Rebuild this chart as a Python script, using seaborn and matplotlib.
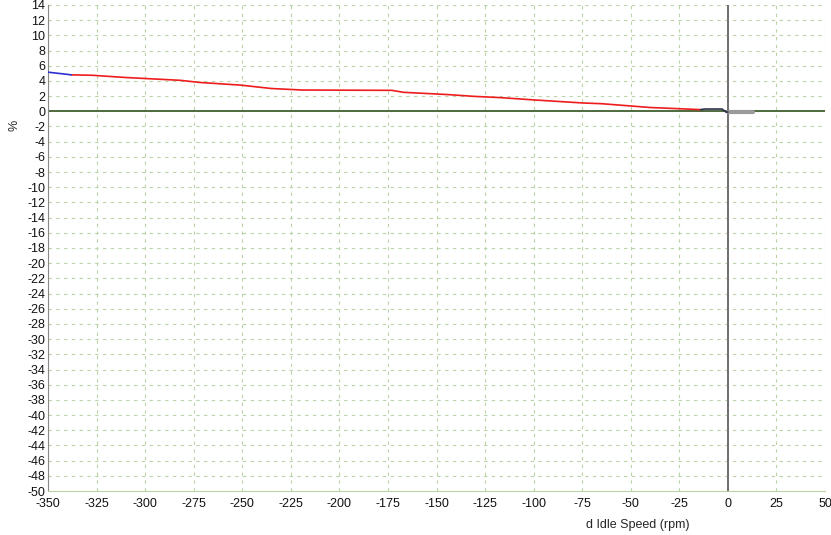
import matplotlib
matplotlib.use('Agg')
import matplotlib.pyplot as plt
import numpy as np
import pandas as pd
import seaborn as sns

# main red trace
red_x = [-338, -327, -310, -282, -272, -251, -235, -219, -173, -167, -144, -131, -117, -100, -75, -65, -55, -40, -14]
red_y = [4.8, 4.74, 4.45, 4.08, 3.8, 3.45, 3.0, 2.8, 2.76, 2.5, 2.2, 1.97, 1.8, 1.5, 1.1, 1.0, 0.8, 0.5, 0.22]
# start of the trace in blue
blue_x = [-350, -338]
blue_y = [5.15, 4.8]
# tail near zero
black_x = [-14, -12, -3, -1, 0]
black_y = [0.22, 0.3, 0.3, -0.1, -0.1]
gray_x = [0, 13]
gray_y = [-0.1, -0.1]

x_ticks = list(range(-350, 51, 25))
y_ticks = list(range(-50, 15, 2))

sns.set_style('white')
plt.rcParams['font.family'] = ['Liberation Sans', 'DejaVu Sans']
plt.rcParams['axes.unicode_minus'] = False

fig = plt.figure(figsize=(8.31, 5.35), dpi=100)
ax = fig.add_axes([0.0578, 0.0822, 0.935, 0.9085])

ax.set_xlim(-350, 50)
ax.set_ylim(-50, 14)
ax.set_xticks(x_ticks)
ax.set_yticks(y_ticks)
ax.tick_params(axis='both', labelsize=9, length=0, colors='#111111')
ax.tick_params(axis='x', pad=5)
ax.tick_params(axis='y', pad=2)
ax.grid(True, color='#b9d4a6', linestyle=(0, (3, 4)), linewidth=0.8)

ax.axhline(0, color='#4f6a3f', linewidth=1.4, zorder=2)
ax.axvline(0, color='#6e6e6e', linewidth=1.4, zorder=2)

sns.lineplot(x=gray_x, y=gray_y, ax=ax, color='#9a9a9a', linewidth=3, zorder=3)
sns.lineplot(x=red_x, y=red_y, ax=ax, color='#ee1c1c', linewidth=1.2, zorder=4)
sns.lineplot(x=blue_x, y=blue_y, ax=ax, color='#3030d0', linewidth=1.2, zorder=4)
sns.lineplot(x=black_x, y=black_y, ax=ax, color='#30304a', linewidth=1.2, zorder=5)

for s in ['top', 'right']:
    ax.spines[s].set_visible(False)
ax.spines['left'].set_color('#888888')
ax.spines['bottom'].set_color('#b9d4a6')

ax.set_xlabel('d Idle Speed (rpm)', fontsize=9)
ax.xaxis.set_label_coords(0.759, -0.058)
ax.set_ylabel('%', fontsize=9)
ax.yaxis.set_label_coords(-0.036, 0.753)

fig.savefig('out.png', dpi=100)
